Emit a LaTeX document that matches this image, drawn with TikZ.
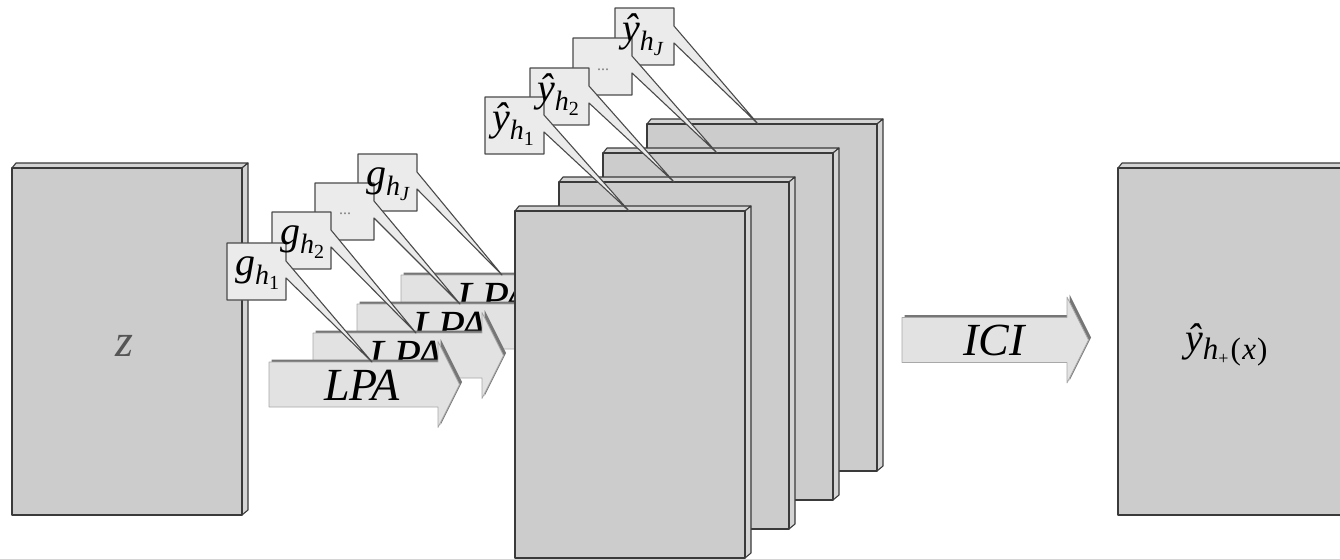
\documentclass[tikz,border=0pt]{standalone}
\usepackage{fontspec}
\setmainfont{Liberation Serif}
\definecolor{pface}{HTML}{CCCCCC}
\definecolor{prim}{HTML}{D4D4D4}
\definecolor{pedge}{HTML}{3A3A3A}
\definecolor{cfill}{HTML}{EBEBEB}
\definecolor{cedge}{HTML}{4A4A4A}
\definecolor{afill}{HTML}{E2E2E2}
\definecolor{aedge}{HTML}{A8A8A8}
\definecolor{ashade}{HTML}{767676}
\definecolor{zgray}{HTML}{555555}
\definecolor{dotgray}{HTML}{808080}

\tikzset{
  face/.style={fill=pface, draw=pedge, line width=1.4pt, line join=round},
  rim/.style={fill=prim, draw=pedge, line width=1.1pt, line join=round},
  callout/.style={fill=cfill, draw=cedge, line width=1.1pt, line join=round},
  abody/.style={fill=afill, draw=aedge, line width=0.8pt, line join=round},
  big/.style={font=\fontsize{46}{50}\selectfont\itshape, inner sep=0pt},
  lab/.style={font=\fontsize{40}{44}\selectfont, inner sep=0pt, anchor=base west},
  dots/.style={font=\fontsize{16}{18}\selectfont, text=dotgray, inner sep=0pt}
}

\newcommand\lvA{\fontsize{28}{30}\selectfont}
\newcommand\lvB{\fontsize{20}{22}\selectfont}
% main letter, sub letter (italic), subsub content
\newcommand\twosub[3]{\textit{#1}\raisebox{-9pt}{\lvA\textit{#2}\raisebox{-5pt}{\lvB #3}}}

% name, x, y (front top-left), width
\newcommand\plate[4]{%
  \draw[rim] (#2,#3) -- ++(4,-5) -- ++(#4+2,0) -- ++(-6,5) -- cycle;
  \draw[rim] (#2+#4,#3) -- ++(6,-5) -- ++(0,347) -- ++(-6,5) -- cycle;
  \draw[face] (#2,#3) rectangle ++(#4,347);
  \coordinate (#1) at (#2,#3);
}
% name, x, y (body top-left), body length
\newcommand\fatarrow[4]{%
  \fill[ashade,xshift=2.5pt,yshift=2.5pt] (#2,#3) -- ++(#4,0) -- ++(0,-20.5) -- ++(21.5,43) -- ++(-21.5,43) -- ++(0,-20.5) -- ++(-#4,0) -- cycle;
  \draw[abody] (#2,#3) -- ++(#4,0) -- ++(0,-20.5) -- ++(21.5,43) -- ++(-21.5,43) -- ++(0,-20.5) -- ++(-#4,0) -- cycle;
  \coordinate (#1) at (#2,#3);
}
% name, x, y (box top-left), tip coordinate
\newcommand\callbox[4]{%
  \draw[callout] (#2,#3) -- ++(59,0) -- ++(0,18) -- #4 -- (#2+59,#3+35) -- (#2+59,#3+57) -- (#2,#3+57) -- cycle;
  \coordinate (#1) at (#2,#3);
}

\begin{document}
\begin{tikzpicture}[x=1pt,y=-1pt]
\useasboundingbox (0,0) rectangle (1340,559);

% input panel
\plate{Z}{12}{168}{230}

% LPA arrows, back to front
\fatarrow{A4}{401}{275}{169}
\node[big] (l4) at ([shift={(93,23)}]A4) {LPA};
\fatarrow{A3}{357}{304}{169}
\node[big] (l3) at ([shift={(93,23)}]A3) {LPA};
\fatarrow{A2}{313}{333}{169}
\node[big] (l2) at ([shift={(93,23)}]A2) {LPA};
\fatarrow{A1}{269}{362}{169}
\node[big] (l1) at ([shift={(93,23)}]A1) {LPA};

% stack of estimates, back to front
\plate{P4}{647}{124}{230}
\plate{P3}{603}{153}{230}
\plate{P2}{559}{182}{230}
\plate{P1}{515}{211}{230}

% output panel
\plate{R}{1118}{168}{232}

% ICI arrow
\fatarrow{AI}{902}{317.5}{165}
\node[big] (ici) at (994,340) {ICI};

\node[big, text=zgray] (tz) at (124,346) {z};
\node[font=\fontsize{40}{44}\selectfont, inner sep=0pt, anchor=base west] (tout) at (1185,351)
  {\textit{ŷ}\raisebox{-8pt}{\fontsize{31}{33}\selectfont\textit{h}\raisebox{-5pt}{\fontsize{18}{20}\selectfont +}\kern2pt(\kern1.5pt\textit{x}\kern1pt)}};

% g callouts
\callbox{GJ}{358}{154}{([xshift=101pt]A4)}
\callbox{GD}{315}{183}{([xshift=103pt]A3)}
\callbox{G2}{272}{212}{([xshift=103pt]A2)}
\callbox{G1}{227}{243}{([xshift=103pt]A1)}

% y-hat callouts
\callbox{YJ}{615}{8}{([xshift=111pt]P4)}
\callbox{YD}{573}{38}{([xshift=114pt]P3)}
\callbox{Y2}{530}{68}{([xshift=115pt]P2)}
\callbox{Y1}{485}{97}{([xshift=114pt]P1)}

% callout texts
\node[lab] (tgJ) at ([shift={(8,32)}]GJ) {\twosub{g}{h}{\textit{J}}};
\node[dots] (tgD) at ([shift={(30,31)}]GD) {...};
\node[lab] (tg2) at ([shift={(8,32)}]G2) {\twosub{g}{h}{2}};
\node[lab] (tg1) at ([shift={(8,32)}]G1) {\twosub{g}{h}{1}};

\node[lab] (tyJ) at ([shift={(7,34)}]YJ) {\twosub{ŷ}{h}{\textit{J}}};
\node[dots] (tyD) at ([shift={(30,32)}]YD) {...};
\node[lab] (ty2) at ([shift={(7,34)}]Y2) {\twosub{ŷ}{h}{2}};
\node[lab] (ty1) at ([shift={(7,34)}]Y1) {\twosub{ŷ}{h}{1}};
\end{tikzpicture}
\end{document}
